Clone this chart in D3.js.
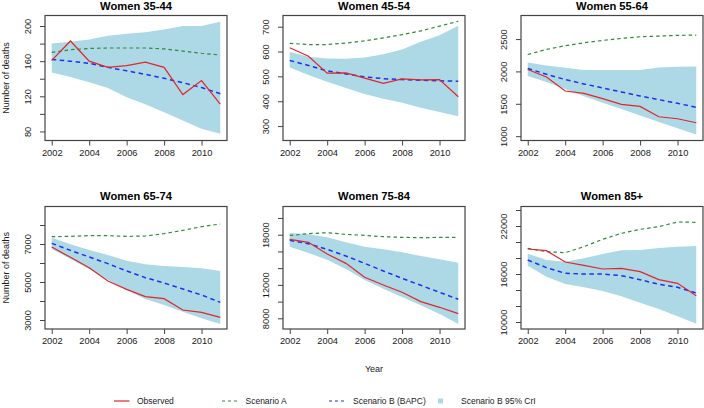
<!DOCTYPE html>
<html>
<head>
<meta charset="utf-8">
<script src="https://cdn.jsdelivr.net/npm/d3@7"></script>
<style>
  html, body { margin: 0; padding: 0; background: #fff; }
  svg { display: block; font-family: "Liberation Sans", Arial, sans-serif; }
</style>
</head>
<body>
<svg id="chart" width="704" height="408"></svg>
<script>
// ---------------- data ----------------
const years = [2002, 2003, 2004, 2005, 2006, 2007, 2008, 2009, 2010, 2011];
const titles = ["Women 35-44", "Women 45-54", "Women 55-64", "Women 65-74", "Women 75-84", "Women 85+"];

const observed = [
  [161, 183, 160, 153, 155, 159, 153, 122, 138, 111],
  [615, 581, 513, 514, 493, 472, 490, 486, 487, 418],
  [2029, 1915, 1698, 1662, 1579, 1491, 1460, 1300, 1269, 1207],
  [6842, 6298, 5754, 5053, 4614, 4228, 4123, 3526, 3404, 3140],
  [17442, 17084, 15689, 14574, 12900, 11984, 11108, 9992, 9315, 8558],
  [19125, 18917, 17500, 17083, 16625, 16708, 16292, 15292, 14833, 13292]
];
const scenarioA = [
  [170, 173, 174.5, 175, 175, 175, 174, 171.5, 169, 167],
  [633, 628, 628, 634, 643, 655, 668, 683, 702, 722],
  [2262, 2340, 2397, 2443, 2479, 2510, 2536, 2546, 2557, 2562],
  [7386, 7403, 7439, 7439, 7403, 7421, 7544, 7719, 7912, 8053],
  [17920, 18120, 18239, 18040, 17920, 17761, 17681, 17641, 17681, 17681],
  [19208, 18792, 18667, 19417, 20333, 21083, 21583, 21917, 22500, 22458]
];
const scenarioB = [
  [162, 160, 157.5, 153, 149, 145, 140.5, 135.5, 130, 123],
  [564, 544, 522, 510, 498, 491, 487, 484.5, 482, 480.5],
  [2045, 1957, 1874, 1807, 1745, 1683, 1621, 1564, 1507, 1445],
  [7035, 6667, 6316, 5965, 5579, 5228, 4947, 4632, 4316, 3930],
  [17323, 16924, 16247, 15450, 14574, 13657, 12781, 11944, 11108, 10271],
  [17750, 16792, 16083, 16000, 16000, 15792, 15292, 14708, 14333, 13625]
];
const criUpper = [
  [180, 182, 184.8, 189, 191.2, 193, 196.2, 200, 200, 205],
  [599, 579, 572, 571, 576, 589, 608, 639, 666, 704],
  [2138, 2091, 2055, 2024, 2024, 2024, 2024, 2060, 2071, 2076],
  [7333, 6982, 6684, 6421, 6123, 5930, 5842, 5789, 5719, 5579],
  [18199, 18040, 17681, 17084, 16566, 16247, 15888, 15450, 15052, 14653],
  [18542, 17750, 17542, 17958, 18500, 18958, 19000, 19250, 19417, 19500]
];
const criLower = [
  [147, 142, 136, 129.5, 119, 111, 102, 92.6, 83, 77.3],
  [536, 506, 478, 453, 429, 410, 394, 374, 357, 340],
  [1931, 1838, 1729, 1616, 1517, 1419, 1321, 1217, 1124, 1026],
  [6737, 6210, 5684, 5123, 4579, 4105, 3789, 3438, 3088, 2789],
  [16566, 15809, 15012, 13896, 12582, 11546, 10550, 9554, 8518, 7323],
  [17042, 15667, 14750, 14333, 13875, 13208, 12417, 11625, 10708, 9792]
];
const yLimits = [
  [69.7, 212], [242, 745], [933, 2864],
  [2526, 8974], [6720, 21373], [9125, 24437]
];
const yTicks = [
  [80, 100, 120, 140, 160, 180, 200],
  [300, 400, 500, 600, 700],
  [1000, 1500, 2000, 2500],
  [3000, 4000, 5000, 6000, 7000, 8000],
  [8000, 10000, 12000, 14000, 16000, 18000, 20000],
  [10000, 12000, 14000, 16000, 18000, 20000, 22000, 24000]
];
const yTickLabels = [
  [80, 120, 160, 200],
  [300, 400, 500, 600, 700],
  [1000, 1500, 2000, 2500],
  [3000, 5000, 7000],
  [8000, 12000, 18000],
  [10000, 16000, 22000]
];
const xTicks = [2002, 2004, 2006, 2008, 2010];
const legendLabels = ["Observed", "Scenario A", "Scenario B (BAPC)", "Scenario B 95% CrI"];

// ---------------- layout / style ----------------
const colX = [45, 283, 521];
const boxW = 182;
const rows = [[15.5, 140.5], [206.5, 329]];
const titleBase = [9.8, 199.8];
const COL_OBS = "#e0262b", COL_A = "#2f8a3a", COL_B = "#1f2ff0", COL_CI = "#add8e6";
const TXT = "#1a1a1a";

const svg = d3.select("#chart");

titles.forEach((title, i) => {
  const col = i % 3, row = Math.floor(i / 3);
  const x0 = colX[col], x1 = x0 + boxW;
  const yTop = rows[row][0], yBot = rows[row][1];
  const x = d3.scaleLinear().domain([2001.64, 2011.36]).range([x0, x1]);
  const y = d3.scaleLinear().domain(yLimits[i]).range([yBot, yTop]);
  const g = svg.append("g");

  const pts = years.map((yr, k) => ({yr, lo: criLower[i][k], hi: criUpper[i][k],
    obs: observed[i][k], a: scenarioA[i][k], b: scenarioB[i][k]}));

  g.append("path").datum(pts)
    .attr("fill", COL_CI)
    .attr("d", d3.area().x(d => x(d.yr)).y0(d => y(d.lo)).y1(d => y(d.hi)));

  const line = key => d3.line().x(d => x(d.yr)).y(d => y(d[key]));
  g.append("path").datum(pts).attr("fill", "none").attr("stroke", COL_A)
    .attr("stroke-width", 1.2).attr("stroke-dasharray", "3.5,3").attr("d", line("a"));
  g.append("path").datum(pts).attr("fill", "none").attr("stroke", COL_B)
    .attr("stroke-width", 1.5).attr("stroke-dasharray", "4.5,3.5").attr("d", line("b"));
  g.append("path").datum(pts).attr("fill", "none").attr("stroke", COL_OBS)
    .attr("stroke-width", 1.2).attr("d", line("obs"));

  // box
  g.append("rect").attr("x", x0).attr("y", yTop).attr("width", boxW).attr("height", yBot - yTop)
    .attr("fill", "none").attr("stroke", "#444").attr("stroke-width", 1.2);

  // x axis
  const xa = g.append("g").attr("transform", `translate(0,${yBot})`)
    .call(d3.axisBottom(x).tickValues(xTicks).tickSize(5).tickFormat(d3.format("d")));
  xa.select(".domain").remove();
  xa.selectAll("line").attr("stroke", "#444");
  xa.selectAll("text").attr("y", 13).attr("dy", null).attr("fill", TXT)
    .style("font-size", "9.3px").attr("dominant-baseline", "middle");

  // y axis
  const labelled = new Set(yTickLabels[i]);
  const ya = g.append("g").attr("transform", `translate(${x0},0)`)
    .call(d3.axisLeft(y).tickValues(yTicks[i]).tickSize(5)
      .tickFormat(d => labelled.has(d) ? String(d) : ""));
  ya.select(".domain").remove();
  ya.selectAll("line").attr("stroke", "#444");
  ya.selectAll("text").attr("x", 0).attr("dy", null).attr("y", -13.6)
    .attr("transform", "rotate(-90)").attr("text-anchor", "middle")
    .attr("fill", TXT).style("font-size", "9.3px");

  // title
  svg.append("text").attr("x", (x0 + x1) / 2).attr("y", titleBase[row])
    .attr("text-anchor", "middle").attr("font-weight", "bold")
    .style("font-size", "11.2px").attr("fill", "#000").text(title);

  if (col === 0) {
    svg.append("text")
      .attr("transform", `translate(9,${(yTop + yBot) / 2}) rotate(-90)`)
      .attr("text-anchor", "middle").style("font-size", "9px").attr("fill", TXT)
      .text("Number of deaths");
  }
  if (i === 4) {
    svg.append("text").attr("x", (x0 + x1) / 2).attr("y", 372)
      .attr("text-anchor", "middle").style("font-size", "9px").attr("fill", TXT)
      .text("Year");
  }
});

// legend
const ly = 401;
const leg = svg.append("g");
const legItems = [
  {x: 114, type: "line", color: COL_OBS, dash: null, tx: 137},
  {x: 222, type: "line", color: COL_A, dash: "3,3", tx: 245.5},
  {x: 329, type: "line", color: COL_B, dash: "3,3", tx: 353},
  {x: 438, type: "box", color: COL_CI, tx: 461}
];
legItems.forEach((it, k) => {
  if (it.type === "line") {
    leg.append("line").attr("x1", it.x).attr("x2", it.x + 15.5).attr("y1", ly).attr("y2", ly)
      .attr("stroke", it.color).attr("stroke-width", 1.2)
      .attr("stroke-dasharray", it.dash);
  } else {
    leg.append("rect").attr("x", it.x).attr("y", ly - 2.5).attr("width", 5).attr("height", 5)
      .attr("fill", it.color);
  }
  leg.append("text").attr("x", it.tx).attr("y", ly + 3).style("font-size", "8.5px")
    .attr("fill", TXT).text(legendLabels[k]);
});
</script>
</body>
</html>
